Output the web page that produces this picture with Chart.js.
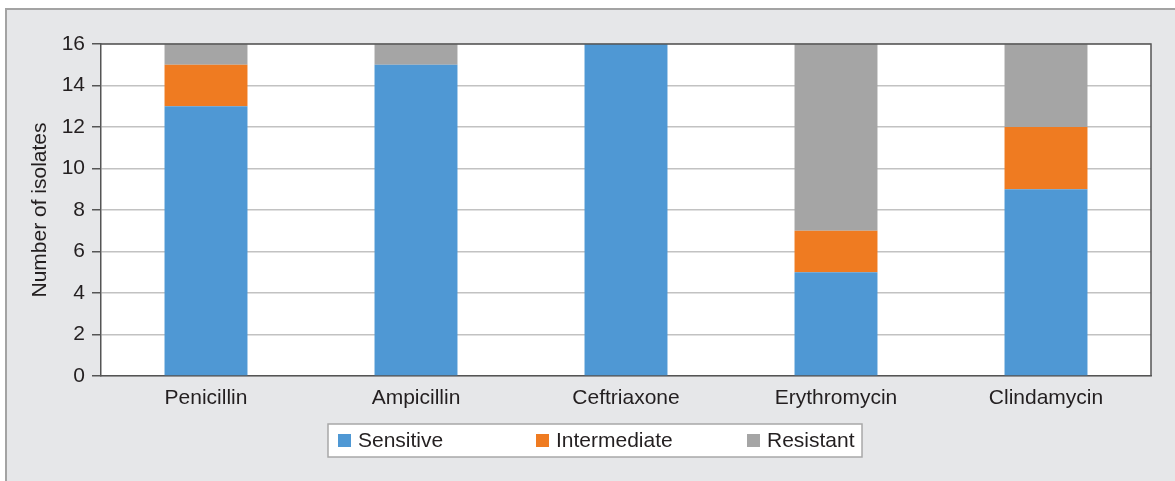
<!DOCTYPE html>
<html>
<head>
<meta charset="utf-8">
<script src="https://cdn.jsdelivr.net/npm/chart.js@4"></script>
<style>
  html, body { margin: 0; padding: 0; background: #fff; overflow: hidden; }
  #frame {
    position: absolute; left: 5px; top: 8px; width: 1200px; height: 500px;
    background: #e6e7e9; border: 2px solid #a3a3a3; box-sizing: border-box;
  }
  #myChart { position: absolute; left: 0; top: 0; }
</style>
</head>
<body>
<div id="frame"></div>
<canvas id="myChart" width="1175" height="481"></canvas>
<script>
const drugs = ['Penicillin', 'Ampicillin', 'Ceftriaxone', 'Erythromycin', 'Clindamycin'];
const sensitive = [13, 15, 16, 5, 9];
const intermediate = [2, 0, 0, 2, 3];
const resistant = [1, 1, 0, 9, 4];
const yTicks = [0, 2, 4, 6, 8, 10, 12, 14, 16];

const fontFamily = '"Liberation Sans", Arial, sans-serif';
const textColor = '#231f20';

// white plot area with a dark frame
const plotFrame = {
  id: 'plotFrame',
  beforeDraw(chart) {
    const { ctx, chartArea: a } = chart;
    ctx.save();
    ctx.fillStyle = '#fff';
    ctx.fillRect(a.left, a.top, a.right - a.left, a.bottom - a.top);
    ctx.restore();
  },
  afterDatasetsDraw(chart) {
    const { ctx, chartArea: a } = chart;
    ctx.save();
    ctx.strokeStyle = '#555';
    ctx.lineWidth = 1.5;
    ctx.beginPath();
    ctx.moveTo(a.left, a.top);
    ctx.lineTo(a.right, a.top);
    ctx.lineTo(a.right, a.bottom);
    ctx.stroke();
    ctx.restore();
  }
};

// boxed legend under the axis
const boxLegend = {
  id: 'boxLegend',
  afterDraw(chart) {
    const { ctx } = chart;
    const x0 = 328, y0 = 424, w = 534, h = 33;
    const itemX = [338, 536, 747];
    ctx.save();
    ctx.fillStyle = '#fff';
    ctx.fillRect(x0, y0, w, h);
    ctx.strokeStyle = '#a8a8a8';
    ctx.lineWidth = 1.5;
    ctx.strokeRect(x0, y0, w, h);
    ctx.font = '21px ' + fontFamily;
    ctx.textBaseline = 'middle';
    chart.data.datasets.forEach((ds, i) => {
      ctx.fillStyle = ds.backgroundColor;
      ctx.fillRect(itemX[i], y0 + 10, 13, 13);
      ctx.fillStyle = textColor;
      ctx.fillText(ds.label, itemX[i] + 20, y0 + h / 2 + 1);
    });
    ctx.restore();
  }
};

new Chart(document.getElementById('myChart'), {
  type: 'bar',
  data: {
    labels: drugs,
    datasets: [
      { label: 'Sensitive', data: sensitive, backgroundColor: '#4f98d4' },
      { label: 'Intermediate', data: intermediate, backgroundColor: '#ef7b21' },
      { label: 'Resistant', data: resistant, backgroundColor: '#a5a5a5' },
    ],
  },
  options: {
    responsive: false,
    animation: false,
    devicePixelRatio: 1,
    layout: { padding: { left: 28, top: 44, right: 24, bottom: 65 } },
    datasets: { bar: { categoryPercentage: 1, barPercentage: 0.395, borderWidth: 0 } },
    plugins: { legend: { display: false }, tooltip: { enabled: false } },
    scales: {
      x: {
        stacked: true,
        grid: { display: false, drawTicks: false },
        border: { color: '#555', width: 1.5 },
        ticks: { color: textColor, font: { size: 21, family: fontFamily }, padding: 10 },
        afterFit: s => { s.height = 40; },
      },
      y: {
        stacked: true,
        min: 0,
        max: 16,
        afterBuildTicks: s => { s.ticks = yTicks.map(v => ({ value: v })); },
        grid: { color: '#c2c2c2', lineWidth: 1.5, tickColor: '#555', tickLength: 9 },
        border: { color: '#555', width: 1.5 },
        ticks: { color: textColor, font: { size: 21, family: fontFamily }, padding: 7 },
        title: {
          display: true,
          text: 'Number of isolates',
          color: textColor,
          font: { size: 21, family: fontFamily },
          padding: 0,
        },
        afterFit: s => { s.width = 73; },
      },
    },
  },
  plugins: [plotFrame, boxLegend],
});
</script>
</body>
</html>
